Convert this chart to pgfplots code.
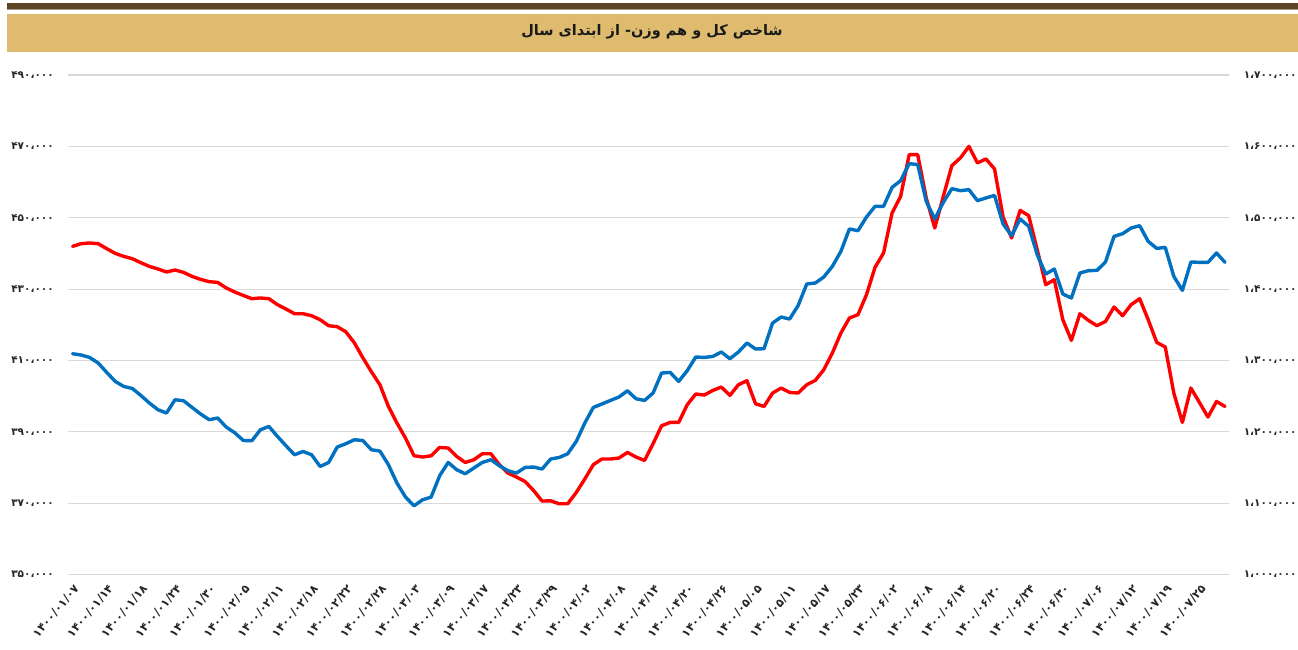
\documentclass[border=0pt]{standalone}
\usepackage{fontspec}
\usepackage{pgfplots}
\usepackage{pgfplotstable}
\pgfplotsset{compat=1.18}
\TeXXeTstate=1
\newfontfamily\fa[Script=Arabic]{DejaVu Sans}
\definecolor{redl}{HTML}{FF0000}
\definecolor{bluel}{HTML}{0070C0}
\definecolor{goldband}{HTML}{DEBB6E}
\definecolor{brownbar}{HTML}{5C4424}
\definecolor{gridc}{HTML}{D9D9D9}

\pgfplotstableread{
i v
0 441960
1 442720
2 442920
3 442720
4 441320
5 440000
6 439160
7 438510
8 437390
9 436350
10 435630
11 434780
12 435350
13 434670
14 433550
15 432710
16 432070
17 431870
18 430300
19 429180
20 428220
21 427300
22 427500
23 427300
24 425620
25 424410
26 423090
27 423090
28 422530
29 421410
30 419730
31 419450
32 418050
33 414960
34 410760
35 406830
36 403190
37 397100
38 392450
39 388240
40 383280
41 382920
42 383280
43 385610
44 385440
45 383080
46 381400
47 382160
48 383840
49 383840
50 380760
51 378430
52 377310
53 376080
54 373550
55 370580
56 370660
57 369820
58 369820
59 372990
60 376750
61 380760
62 382360
63 382360
64 382640
65 384210
66 382920
67 381960
68 386650
69 391690
70 392620
71 392620
72 397580
73 400580
74 400300
75 401590
76 402540
77 400190
78 403190
79 404310
80 397860
81 397100
82 400860
83 402260
84 401030
85 400860
86 403190
87 404390
88 407390
89 412070
90 417680
91 421890
92 422810
93 428420
94 436070
95 440110
96 451330
97 455980
98 467670
99 467670
100 455530
101 447120
102 455980
103 464590
104 466750
105 470000
106 465350
107 466470
108 463660
109 450210
110 444320
111 452060
112 450570
113 441040
114 431220
115 432630
116 421410
117 415610
118 423090
119 421210
120 419730
121 420930
122 424970
123 422530
124 425620
125 427300
126 421410
127 415050
128 413760
129 400860
130 392620
131 402260
132 398220
133 394130
134 398500
135 397100
}\redtab

\pgfplotstableread{
i v
0 1309400
1 1307600
2 1304200
3 1296400
4 1283200
5 1270600
6 1263500
7 1260700
8 1250900
9 1240300
10 1230900
11 1226300
12 1244900
13 1243500
14 1234100
15 1224900
16 1216900
17 1219300
18 1206600
19 1198600
20 1187800
21 1187400
22 1202800
23 1207500
24 1193500
25 1180400
26 1167800
27 1172400
28 1167800
29 1151400
30 1157000
31 1178600
32 1183200
33 1188800
34 1187800
35 1174800
36 1173000
37 1153800
38 1128100
39 1108500
40 1096300
41 1104700
42 1108500
43 1138400
44 1157000
45 1146800
46 1141200
47 1149200
48 1157000
49 1160800
50 1152400
51 1145400
52 1142100
53 1150000
54 1150600
55 1147800
56 1161800
57 1164000
58 1169200
59 1186400
60 1212200
61 1234100
62 1238900
63 1243900
64 1248700
65 1257500
66 1246300
67 1243900
68 1254300
69 1282300
70 1283200
71 1270600
72 1285600
73 1304800
74 1304200
75 1305600
76 1311800
77 1302400
78 1311800
79 1324400
80 1316000
81 1316400
82 1352400
83 1360800
84 1358000
85 1377100
86 1407100
87 1408500
88 1416900
89 1431800
90 1452800
91 1484200
92 1481800
93 1501000
94 1515900
95 1515900
96 1542500
97 1551900
98 1575800
99 1574400
100 1522900
101 1498200
102 1521500
103 1540700
104 1537900
105 1539300
106 1523900
107 1527700
108 1531300
109 1491200
110 1474800
111 1498200
112 1487900
113 1448200
114 1421100
115 1428100
116 1393100
117 1387500
118 1422500
119 1425800
120 1426200
121 1438000
122 1473800
123 1477600
124 1485600
125 1488800
126 1466800
127 1457000
128 1458400
129 1417800
130 1398100
131 1438000
132 1437400
133 1437400
134 1450600
135 1437400
}\bluetab

\begin{document}
\begin{tikzpicture}[x=1pt,y=1pt]
\path[use as bounding box] (0,0) rectangle (1298,650);
\fill[brownbar] (7,641) rectangle (1298,647);
\fill[brownbar!55] (7,640) rectangle (1298,641);
\fill[goldband] (7,598) rectangle (1298,636);
\node[font=\fa\bfseries\fontsize{14.5}{16}\selectfont, text=black!90] at (652,618) {\beginR شاخص کل و هم وزن- از ابتدای سال\endR};

\begin{axis}[
  at={(68.3pt,75.5pt)}, anchor=south west,
  width=1161pt, height=499.5pt, scale only axis,
  xmin=-0.5, xmax=135.5,
  ymin=350000, ymax=490000,
  scaled y ticks=false,
  axis line style={draw=none},
  major tick style={draw=none},
  ymajorgrids, grid style={gridc, line width=1.1pt},
  ytick={350000,370000,390000,410000,430000,450000,470000,490000},
  yticklabels={۳۵۰،۰۰۰,۳۷۰،۰۰۰,۳۹۰،۰۰۰,۴۱۰،۰۰۰,۴۳۰،۰۰۰,۴۵۰،۰۰۰,۴۷۰،۰۰۰,۴۹۰،۰۰۰},
  yticklabel style={font=\fa\bfseries\fontsize{10.5}{12}\selectfont, text=black!85, xshift=-11pt},
  xtick={0,4,...,132},
  xticklabels={۱۴۰۰/۰۱/۰۷,۱۴۰۰/۰۱/۱۴,۱۴۰۰/۰۱/۱۸,۱۴۰۰/۰۱/۲۴,۱۴۰۰/۰۱/۳۰,۱۴۰۰/۰۲/۰۵,۱۴۰۰/۰۲/۱۱,۱۴۰۰/۰۲/۱۸,۱۴۰۰/۰۲/۲۲,۱۴۰۰/۰۲/۲۸,۱۴۰۰/۰۳/۰۳,۱۴۰۰/۰۳/۰۹,۱۴۰۰/۰۳/۱۷,۱۴۰۰/۰۳/۲۳,۱۴۰۰/۰۳/۲۹,۱۴۰۰/۰۴/۰۲,۱۴۰۰/۰۴/۰۸,۱۴۰۰/۰۴/۱۴,۱۴۰۰/۰۴/۲۰,۱۴۰۰/۰۴/۲۶,۱۴۰۰/۰۵/۰۵,۱۴۰۰/۰۵/۱۱,۱۴۰۰/۰۵/۱۷,۱۴۰۰/۰۵/۲۳,۱۴۰۰/۰۶/۰۲,۱۴۰۰/۰۶/۰۸,۱۴۰۰/۰۶/۱۴,۱۴۰۰/۰۶/۲۰,۱۴۰۰/۰۶/۲۴,۱۴۰۰/۰۶/۳۰,۱۴۰۰/۰۷/۰۶,۱۴۰۰/۰۷/۱۲,۱۴۰۰/۰۷/۱۹,۱۴۰۰/۰۷/۲۵},
  xticklabel style={font=\fa\bfseries\fontsize{11.5}{12}\selectfont, text=black!85, inner sep=1pt, xshift=5pt, yshift=-11pt, rotate=50, anchor=east},
  clip=false,
]
\addplot[redl, line width=3.4pt, line join=round, line cap=round] table[x=i,y=v] {\redtab};
\end{axis}

\begin{axis}[
  at={(68.3pt,75.5pt)}, anchor=south west,
  width=1161pt, height=499.5pt, scale only axis,
  xmin=-0.5, xmax=135.5,
  ymin=1000000, ymax=1700000,
  scaled y ticks=false,
  axis y line*=right,
  axis x line=none,
  axis line style={draw=none},
  major tick style={draw=none},
  ytick={1000000,1100000,1200000,1300000,1400000,1500000,1600000,1700000},
  yticklabels={۱،۰۰۰،۰۰۰,۱،۱۰۰،۰۰۰,۱،۲۰۰،۰۰۰,۱،۳۰۰،۰۰۰,۱،۴۰۰،۰۰۰,۱،۵۰۰،۰۰۰,۱،۶۰۰،۰۰۰,۱،۷۰۰،۰۰۰},
  yticklabel style={font=\fa\bfseries\fontsize{10.5}{12}\selectfont, text=black!85, xshift=11pt},
  clip=false,
]
\addplot[bluel, line width=3.4pt, line join=round, line cap=round] table[x=i,y=v] {\bluetab};
\end{axis}
\end{tikzpicture}
\end{document}
